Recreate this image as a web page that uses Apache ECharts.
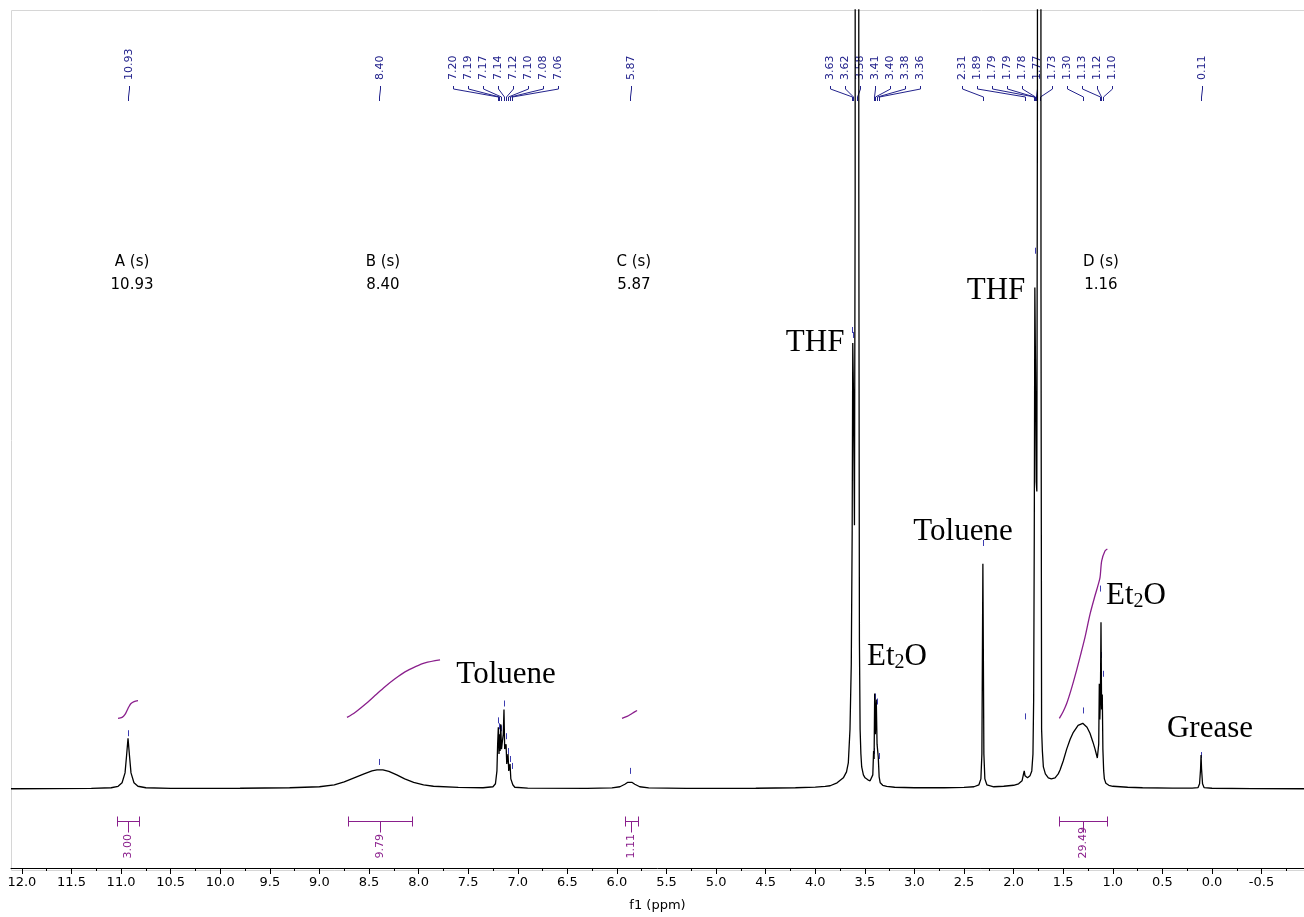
<!DOCTYPE html>
<html>
<head>
<meta charset="utf-8">
<title>1H NMR</title>
<script src="https://cdn.jsdelivr.net/npm/echarts@6/dist/echarts.min.js"></script>
<style>
  html, body { margin: 0; padding: 0; background: #fff; }
  #chart { width: 1304px; height: 917px; }
</style>
</head>
<body>
<div id="chart"></div>
<script>
// ---- 1H NMR trace: [chemical shift (ppm), intensity] ----
const lowFieldTrace = [
  [12.11, 0], [11.3, 0.3], [11.1, 1], [11.03, 2.5], [10.99, 6], [10.96, 16], [10.945, 33],
  [10.93, 51], [10.915, 33], [10.9, 16], [10.87, 6], [10.83, 2.5], [10.75, 1], [10.5, 0.4],
  [9.8, 0.5], [9.3, 1], [9.0, 2], [8.85, 4], [8.75, 7], [8.65, 11], [8.55, 15], [8.47, 18],
  [8.42, 19], [8.36, 19], [8.30, 17.5], [8.22, 14], [8.14, 10], [8.05, 6.5], [7.95, 4],
  [7.85, 2.5], [7.6, 1.3], [7.35, 1]
];
const aromaticTrace = [
  [7.25, 2], [7.225, 5], [7.21, 18], [7.203, 45], [7.196, 62], [7.189, 35], [7.184, 55],
  [7.178, 38], [7.172, 65], [7.164, 40], [7.155, 48], [7.146, 55], [7.139, 80], [7.132, 40],
  [7.125, 42], [7.118, 45], [7.111, 25], [7.105, 30], [7.098, 35], [7.091, 18], [7.085, 20],
  [7.078, 25], [7.07, 10], [7.062, 12], [7.05, 4], [7.03, 1.5], [6.9, 0.6], [6.3, 0.4],
  [6.05, 0.8], [5.97, 2], [5.92, 4.5], [5.89, 6.5], [5.87, 7], [5.85, 6.5], [5.82, 4.5],
  [5.77, 2], [5.68, 0.8], [5.3, 0.3]
];
const midFieldTrace = [
  [4.6, 0.5], [4.2, 1], [4.0, 1.7], [3.9, 2.3], [3.85, 3], [3.78, 6], [3.717, 11], [3.685, 17],
  [3.667, 26], [3.65, 60], [3.637, 126], [3.628, 260], [3.622, 450], [3.615, 400], [3.605, 266],
  [3.598, 600], [3.594, 3000], [3.566, 3000], [3.561, 600], [3.555, 150], [3.548, 60],
  [3.54, 35], [3.532, 22], [3.515, 14], [3.498, 11], [3.47, 9], [3.447, 8], [3.43, 9],
  [3.42, 14], [3.412, 38], [3.407, 30], [3.401, 96], [3.394, 55], [3.385, 90], [3.377, 45],
  [3.365, 32], [3.356, 12], [3.345, 6], [3.32, 3.5], [3.28, 2.3], [3.2, 1.5], [3.0, 1],
  [2.7, 1], [2.5, 1.3], [2.4, 2], [2.35, 4], [2.33, 10], [2.32, 35], [2.31, 227], [2.30, 35],
  [2.29, 10], [2.27, 4], [2.2, 2], [2.1, 2.5], [2.0, 3.5]
];
const highFieldTrace = [
  [1.95, 5], [1.915, 8], [1.9, 15], [1.893, 18], [1.885, 13], [1.86, 11], [1.835, 13],
  [1.817, 18], [1.805, 35], [1.798, 90], [1.792, 250], [1.786, 506], [1.779, 420],
  [1.772, 310], [1.766, 300], [1.760, 700], [1.755, 3000], [1.730, 3000], [1.724, 500],
  [1.718, 60], [1.71, 38], [1.70, 22], [1.68, 15], [1.65, 11], [1.62, 10], [1.582, 11],
  [1.55, 15], [1.532, 19], [1.50, 28], [1.465, 40], [1.43, 50], [1.398, 57], [1.35, 64],
  [1.303, 66], [1.26, 62], [1.23, 56], [1.20, 47], [1.179, 40], [1.156, 31], [1.15, 33],
  [1.142, 45], [1.136, 106], [1.131, 70], [1.125, 90], [1.119, 168], [1.113, 80],
  [1.106, 95], [1.10, 40], [1.092, 18], [1.085, 10], [1.07, 5.5], [1.04, 3.5], [1.0, 2.5],
  [0.85, 1.5], [0.7, 1], [0.4, 0.6], [0.2, 0.6], [0.14, 1.2], [0.125, 5], [0.115, 20],
  [0.11, 34], [0.105, 20], [0.095, 5], [0.08, 1.2], [0.0, 0.5], [-0.4, 0.2], [-0.928, 0]
];

// ---- integral curves: [ppm, running integral] ----
const integralCurveA = [[11.031, 71], [10.99, 72], [10.96, 75], [10.94, 79], [10.92, 83], [10.90, 86], [10.869, 88], [10.829, 89]];
const integralCurveB = [[8.722, 72], [8.641, 77], [8.541, 85], [8.44, 94], [8.339, 103], [8.238, 111], [8.137, 118], [8.036, 123], [7.935, 127], [7.784, 130]];
const integralCurveC = [[5.949, 71], [5.898, 73], [5.848, 76], [5.797, 79]];
const integralCurveD = [[1.539, 71], [1.50, 78], [1.465, 86], [1.42, 100], [1.364, 120], [1.32, 137], [1.28, 153], [1.23, 176], [1.179, 195], [1.15, 205], [1.129, 213], [1.112, 230], [1.079, 240], [1.055, 242]];

// ---- integration ranges ----
const integralFrom = [11.039, 8.710, 5.920, 1.539];
const integralTo = [10.823, 8.068, 5.792, 1.055];
const integralValues = [3.00, 9.79, 1.11, 29.49];

// ---- picked peaks and the height of their marker ----
const peakShifts = ['10.93', '8.40', '7.20', '7.19', '7.17', '7.14', '7.12', '7.10', '7.08', '7.06',
  '5.87', '3.63', '3.62', '3.58', '3.41', '3.40', '3.38', '3.36', '2.31', '1.89', '1.79', '1.79',
  '1.78', '1.77', '1.73', '1.30', '1.13', '1.12', '1.10', '0.11'];
const peakMarkHeights = [53, 24, 66, 60, 58, 83, 50, 35, 27, 20,
  15, 460, 455, 3000, 35, 90, 85, 30, 245, 70, 3000, 3000,
  540, 3000, 3000, 76, 199, 132, 113, 31];

// ---- multiplet reports ----
const multipletNames = ['A (s)', 'B (s)', 'C (s)', 'D (s)'];
const multipletShifts = [10.93, 8.40, 5.87, 1.16];

// ---- solvent / impurity tags: text and [ppm, height] anchor ----
const solventNames = ['THF', 'THF', 'Toluene', 'Toluene', 'Et2O', 'Et2O', 'Grease'];
const solventAnchors = [[4.002, 450], [2.177, 503], [7.118, 115], [2.510, 259], [3.176, 133], [0.766, 195], [0.020, 60]];

// ---- axis ticks ----
const axisTicks = [12.0, 11.5, 11.0, 10.5, 10.0, 9.5, 9.0, 8.5, 8.0, 7.5, 7.0, 6.5, 6.0, 5.5, 5.0, 4.5, 4.0, 3.5, 3.0, 2.5, 2.0, 1.5, 1.0, 0.5, 0.0, -0.5];
const minorTicks = [11.75, 11.25, 10.75, 10.25, 9.75, 9.25, 8.75, 8.25, 7.75, 7.25, 6.75, 6.25, 5.75, 5.25, 4.75, 4.25, 3.75, 3.25, 2.75, 2.25, 1.75, 1.25, 0.75, 0.25, -0.25, -0.75];

// ---- styling ----
const LABEL_COLOR = '#22228c';
const MARK_COLOR = '#3c3cb0';
const INTEGRAL_COLOR = '#8a1f8c';
const SANS = '"DejaVu Sans", Verdana, sans-serif';
const SERIF = '"Liberation Serif", "Times New Roman", serif';
const LABEL_GAP = 15;
const BAR_LEVEL = -33;

const spectrum = lowFieldTrace.concat(aromaticTrace, midFieldTrace, highFieldTrace);

// Spread peak labels so they keep a minimum gap; overlapping groups are centred on their median peak.
function spreadLabels(xs, gap) {
  const order = xs.map((x, i) => i).sort((a, b) => xs[a] - xs[b]);
  const clusters = [];
  order.forEach(i => {
    clusters.push({ ids: [i], start: xs[i] });
    while (clusters.length > 1) {
      const b = clusters[clusters.length - 1];
      const a = clusters[clusters.length - 2];
      if (a.start + a.ids.length * gap <= b.start) break;
      const ids = a.ids.concat(b.ids);
      const wanted = ids.map(j => xs[j]).sort((p, q) => p - q);
      const m = wanted.length;
      const med = m % 2 ? wanted[(m - 1) / 2] : (wanted[m / 2 - 1] + wanted[m / 2]) / 2;
      clusters.splice(-2, 2, { ids, start: med - (m - 1) * gap / 2 });
    }
  });
  const out = [];
  clusters.forEach(c => c.ids.forEach((j, k) => { out[j] = c.start + k * gap; }));
  return out;
}

function renderPeakLabels(params, api) {
  const xs = peakShifts.map(s => Math.round(api.coord([parseFloat(s), 0])[0]) + 0.5);
  const lx = spreadLabels(xs, LABEL_GAP).map(v => Math.round(v) + 0.5);
  const children = [];
  peakShifts.forEach((s, i) => {
    children.push({
      type: 'text', x: lx[i], y: 80, rotation: Math.PI / 2,
      style: { text: s, fill: LABEL_COLOR, fontSize: 11, fontFamily: SANS, align: 'left', verticalAlign: 'middle' }
    });
    children.push({
      type: 'polyline',
      shape: { points: [[lx[i], 86], [lx[i], 89], [xs[i], 97], [xs[i], 101]] },
      style: { stroke: LABEL_COLOR, lineWidth: 1, fill: null }
    });
    const my = api.coord([parseFloat(s), peakMarkHeights[i]])[1];
    if (my > 16) {
      children.push({
        type: 'line', shape: { x1: xs[i], y1: my, x2: xs[i], y2: my - 6 },
        style: { stroke: MARK_COLOR, lineWidth: 1 }
      });
    }
  });
  return { type: 'group', children };
}

function renderIntegral(params, api) {
  const a = api.coord([api.value(0), BAR_LEVEL]);
  const b = api.coord([api.value(1), BAR_LEVEL]);
  const y = Math.round(a[1]) + 0.5;
  const x1 = Math.round(a[0]) + 0.5, x2 = Math.round(b[0]) + 0.5;
  const xm = Math.round((a[0] + b[0]) / 2) + 0.5;
  const st = { stroke: INTEGRAL_COLOR, lineWidth: 1 };
  return {
    type: 'group',
    children: [
      { type: 'line', shape: { x1, y1: y, x2, y2: y }, style: st },
      { type: 'line', shape: { x1, y1: y - 5, x2: x1, y2: y + 5 }, style: st },
      { type: 'line', shape: { x1: x2, y1: y - 5, x2, y2: y + 5 }, style: st },
      { type: 'line', shape: { x1: xm, y1: y, x2: xm, y2: y + 11 }, style: st },
      {
        type: 'text', x: xm, y: y + 37, rotation: Math.PI / 2,
        style: { text: integralValues[params.dataIndex].toFixed(2), fill: INTEGRAL_COLOR, fontSize: 11, fontFamily: SANS, align: 'left', verticalAlign: 'middle' }
      }
    ]
  };
}

function renderMultiplet(params, api) {
  const i = params.dataIndex;
  const x = api.coord([api.value(0), 0])[0] + 4;
  const st = { fill: '#000', fontSize: 15, fontFamily: SANS, align: 'center', verticalAlign: 'middle' };
  return {
    type: 'group',
    children: [
      { type: 'text', x, y: 262, style: Object.assign({ text: multipletNames[i] }, st) },
      { type: 'text', x, y: 285, style: Object.assign({ text: multipletShifts[i].toFixed(2) }, st) }
    ]
  };
}

function renderSolvent(params, api) {
  const i = params.dataIndex;
  const p = api.coord([api.value(0), api.value(1)]);
  const name = solventNames[i];
  const m = name.match(/^([A-Za-z]+)(\d)([A-Za-z]+)$/);
  const text = m ? '{a|' + m[1] + '}{b|' + m[2] + '}{a|' + m[3] + '}' : '{a|' + name + '}';
  return {
    type: 'text', x: p[0], y: p[1],
    style: {
      text, align: 'center', verticalAlign: 'middle', fill: '#000',
      rich: {
        a: { fontSize: 31, fontFamily: SERIF, fill: '#000' },
        b: { fontSize: 20, fontFamily: SERIF, fill: '#000', padding: [12, 0, 0, 0] }
      }
    }
  };
}

const chart = echarts.init(document.getElementById('chart'), null, { renderer: 'canvas' });

const xBase = { type: 'value', inverse: true, min: -0.928, max: 12.11, position: 'bottom', splitLine: { show: false } };

chart.setOption({
  animation: false,
  backgroundColor: '#fff',
  grid: { left: 11, right: 0, top: 10, bottom: 41, containLabel: false },
  graphic: [{
    type: 'rect', z: -10, silent: true,
    shape: { x: 11.5, y: 10.5, width: 1310, height: 860 },
    style: { fill: null, stroke: '#d6d6d6', lineWidth: 1 }
  }],
  xAxis: [
    Object.assign({}, xBase, {
      axisLine: { show: true, onZero: false, lineStyle: { color: '#000', width: 1 } },
      axisTick: { show: true, customValues: axisTicks, length: 6, inside: false, lineStyle: { color: '#000' } },
      axisLabel: { customValues: axisTicks, formatter: v => v.toFixed(1), fontFamily: SANS, fontSize: 13, color: '#000', margin: 8 },
      name: 'f1 (ppm)', nameLocation: 'middle', nameGap: 31,
      nameTextStyle: { fontFamily: SANS, fontSize: 13, color: '#000' }
    }),
    Object.assign({}, xBase, {
      axisLine: { show: false, onZero: false },
      axisTick: { show: true, customValues: minorTicks, length: 3, lineStyle: { color: '#000' } },
      axisLabel: { show: false }
    })
  ],
  yAxis: { type: 'value', min: -80, max: 786, show: false },
  series: [
    {
      type: 'custom', name: 'peak labels', coordinateSystem: 'cartesian2d', xAxisIndex: 0,
      data: [[0, 0]], renderItem: renderPeakLabels, z: 1, silent: true
    },
    {
      type: 'line', name: 'spectrum', data: spectrum, showSymbol: false, symbol: 'none',
      lineStyle: { color: '#000', width: 1.3 }, z: 5, silent: true, clip: true
    },
    ...[integralCurveA, integralCurveB, integralCurveC, integralCurveD].map(c => ({
      type: 'line', data: c, showSymbol: false, symbol: 'none', smooth: 0.3,
      lineStyle: { color: INTEGRAL_COLOR, width: 1.3 }, z: 4, silent: true
    })),
    {
      type: 'custom', name: 'integrals', coordinateSystem: 'cartesian2d',
      data: integralFrom.map((f, i) => [f, integralTo[i], integralValues[i]]),
      renderItem: renderIntegral, z: 4, silent: true
    },
    {
      type: 'custom', name: 'multiplets', coordinateSystem: 'cartesian2d',
      data: multipletShifts.map(s => [s, 0]), renderItem: renderMultiplet, z: 4, silent: true
    },
    {
      type: 'custom', name: 'solvents', coordinateSystem: 'cartesian2d',
      data: solventAnchors, renderItem: renderSolvent, z: 6, silent: true
    }
  ]
});
</script>
</body>
</html>
